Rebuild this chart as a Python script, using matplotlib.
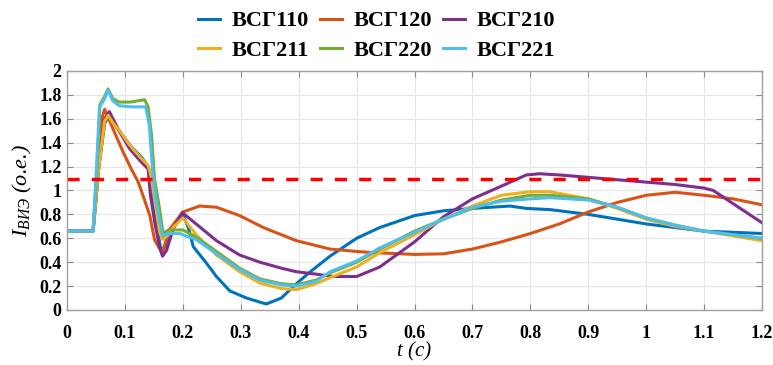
import matplotlib
matplotlib.use("Agg")
import matplotlib.pyplot as plt
from matplotlib.font_manager import FontProperties

plt.rcParams['mathtext.fontset'] = 'custom'
plt.rcParams['mathtext.it'] = 'Liberation Serif:italic'
plt.rcParams['mathtext.rm'] = 'Liberation Serif'
plt.rcParams['font.family'] = ['Liberation Serif', 'DejaVu Serif']

labels = ['ВСГ110', 'ВСГ120', 'ВСГ210', 'ВСГ211', 'ВСГ220', 'ВСГ221']
colors = ['#0072BD', '#D95319', '#7E2F8E', '#EDB120', '#77AC30', '#4DBEEE']
threshold = 1.1

t110 = [0, 0.045, 0.055, 0.065, 0.071, 0.09, 0.11, 0.13, 0.14, 0.146, 0.155, 0.163, 0.172, 0.185, 0.2, 0.21, 0.218, 0.241, 0.258, 0.281, 0.31, 0.344, 0.37, 0.396, 0.42, 0.454, 0.5, 0.54, 0.6, 0.65, 0.7, 0.765, 0.793, 0.834, 0.9, 0.95, 1.0, 1.05, 1.1, 1.15, 1.2]
v110 = [0.66, 0.66, 1.2, 1.56, 1.62, 1.50, 1.37, 1.27, 1.2, 1.05, 0.7, 0.48, 0.55, 0.70, 0.80, 0.68, 0.53, 0.39, 0.28, 0.16, 0.10, 0.05, 0.10, 0.22, 0.32, 0.45, 0.60, 0.69, 0.79, 0.83, 0.85, 0.87, 0.85, 0.84, 0.80, 0.76, 0.72, 0.69, 0.66, 0.65, 0.64]

t120 = [0, 0.045, 0.054, 0.06, 0.065, 0.079, 0.097, 0.111, 0.123, 0.131, 0.143, 0.151, 0.160, 0.165, 0.177, 0.2, 0.229, 0.258, 0.298, 0.339, 0.396, 0.454, 0.5, 0.529, 0.6, 0.65, 0.7, 0.75, 0.8, 0.85, 0.9, 0.95, 1.0, 1.05, 1.1, 1.15, 1.2]
v120 = [0.66, 0.66, 1.32, 1.6, 1.68, 1.52, 1.32, 1.18, 1.07, 0.96, 0.79, 0.59, 0.51, 0.49, 0.675, 0.82, 0.87, 0.86, 0.79, 0.69, 0.58, 0.51, 0.49, 0.48, 0.465, 0.47, 0.51, 0.57, 0.64, 0.72, 0.82, 0.90, 0.96, 0.985, 0.96, 0.93, 0.88]

t210 = [0, 0.045, 0.055, 0.065, 0.073, 0.091, 0.108, 0.126, 0.14, 0.144, 0.152, 0.16, 0.165, 0.172, 0.183, 0.199, 0.223, 0.258, 0.298, 0.333, 0.37, 0.396, 0.43, 0.46, 0.5, 0.54, 0.6, 0.65, 0.7, 0.747, 0.793, 0.816, 0.85, 0.9, 0.95, 1.0, 1.05, 1.1, 1.116, 1.15, 1.2]
v210 = [0.66, 0.66, 1.2, 1.6, 1.66, 1.49, 1.35, 1.25, 1.18, 0.96, 0.72, 0.52, 0.45, 0.50, 0.675, 0.815, 0.72, 0.58, 0.46, 0.40, 0.35, 0.32, 0.30, 0.28, 0.28, 0.36, 0.57, 0.78, 0.93, 1.03, 1.13, 1.14, 1.13, 1.11, 1.09, 1.07, 1.05, 1.02, 1.00, 0.89, 0.73]

t211 = [0, 0.045, 0.055, 0.065, 0.071, 0.08, 0.091, 0.108, 0.126, 0.14, 0.145, 0.152, 0.16, 0.165, 0.175, 0.183, 0.2, 0.223, 0.258, 0.298, 0.333, 0.37, 0.396, 0.43, 0.454, 0.5, 0.54, 0.6, 0.65, 0.7, 0.75, 0.8, 0.834, 0.9, 0.95, 1.0, 1.05, 1.1, 1.15, 1.2]
v211 = [0.66, 0.66, 1.2, 1.58, 1.63, 1.56, 1.50, 1.38, 1.28, 1.21, 1.12, 0.90, 0.65, 0.59, 0.63, 0.69, 0.77, 0.63, 0.46, 0.32, 0.225, 0.18, 0.17, 0.22, 0.27, 0.36, 0.48, 0.63, 0.76, 0.87, 0.96, 0.99, 0.99, 0.93, 0.85, 0.76, 0.70, 0.66, 0.62, 0.58]

t220 = [0, 0.045, 0.052, 0.057, 0.064, 0.071, 0.079, 0.09, 0.11, 0.134, 0.14, 0.146, 0.151, 0.158, 0.166, 0.175, 0.19, 0.2, 0.223, 0.258, 0.298, 0.333, 0.37, 0.396, 0.43, 0.454, 0.5, 0.54, 0.6, 0.65, 0.7, 0.75, 0.8, 0.834, 0.9, 0.95, 1.0, 1.05, 1.1, 1.15, 1.2]
v220 = [0.66, 0.66, 1.2, 1.72, 1.78, 1.85, 1.77, 1.74, 1.74, 1.76, 1.70, 1.46, 1.10, 0.90, 0.64, 0.67, 0.67, 0.67, 0.61, 0.49, 0.35, 0.26, 0.22, 0.21, 0.25, 0.31, 0.40, 0.51, 0.66, 0.76, 0.85, 0.92, 0.96, 0.96, 0.93, 0.86, 0.77, 0.71, 0.66, 0.63, 0.60]

t221 = [0, 0.045, 0.051, 0.056, 0.064, 0.071, 0.079, 0.09, 0.11, 0.136, 0.142, 0.148, 0.155, 0.165, 0.175, 0.195, 0.205, 0.223, 0.258, 0.298, 0.333, 0.37, 0.396, 0.43, 0.454, 0.5, 0.54, 0.6, 0.65, 0.7, 0.75, 0.8, 0.834, 0.9, 0.95, 1.0, 1.05, 1.1, 1.15, 1.2]
v221 = [0.66, 0.66, 1.2, 1.70, 1.76, 1.84, 1.75, 1.71, 1.70, 1.70, 1.55, 1.15, 0.88, 0.62, 0.64, 0.64, 0.62, 0.59, 0.47, 0.34, 0.25, 0.21, 0.20, 0.24, 0.32, 0.41, 0.52, 0.65, 0.76, 0.86, 0.91, 0.93, 0.94, 0.92, 0.86, 0.77, 0.71, 0.66, 0.63, 0.60]

series_t = [t110, t120, t210, t211, t220, t221]
series_v = [v110, v120, v210, v211, v220, v221]

xticks = [0, 0.1, 0.2, 0.3, 0.4, 0.5, 0.6, 0.7, 0.8, 0.9, 1, 1.1, 1.2]
xticklabels = ['0', '0.1', '0.2', '0.3', '0.4', '0.5', '0.6', '0.7', '0.8', '0.9', '1', '1.1', '1.2']
yticks = [0, 0.2, 0.4, 0.6, 0.8, 1, 1.2, 1.4, 1.6, 1.8, 2]
yticklabels = ['0', '0.2', '0.4', '0.6', '0.8', '1', '1.2', '1.4', '1.6', '1.8', '2']

fig = plt.figure(figsize=(7.73, 3.65), dpi=100)
ax = fig.add_axes([0.0867, 0.1507, 0.8991, 0.6548])

handles = []
for tt, vv, c, lab in zip(series_t, series_v, colors, labels):
    h, = ax.plot(tt, vv, color=c, lw=2.2, label=lab, solid_joinstyle='round')
    handles.append(h)

ax.axhline(threshold, color='#FF0000', lw=2.5, dashes=(3.5, 3.5))

ax.set_xlim(0, 1.2)
ax.set_ylim(0, 2)
ax.set_xticks(xticks)
ax.set_xticklabels(xticklabels)
ax.set_yticks(yticks)
ax.set_yticklabels(yticklabels)
tickfont = FontProperties(family='Liberation Serif', weight='bold', size=13)
for lbl in ax.get_xticklabels() + ax.get_yticklabels():
    lbl.set_fontproperties(tickfont)
ax.tick_params(direction='in', length=4, color='#888888', top=True, right=True)
ax.tick_params(axis='x', pad=11)
ax.tick_params(axis='y', pad=4)
ax.grid(True, color='#E6E6E6', lw=0.8)
ax.set_axisbelow(True)
for s in ax.spines.values():
    s.set_color('#A0A0A0')
    s.set_linewidth(1.0)

ax.set_xlabel('t (с)', fontsize=15, style='italic', labelpad=0)
ax.set_ylabel(r'$I_{ВИЭ}$ (о.е.)', fontsize=16, style='italic', labelpad=4)

order = [0, 3, 1, 4, 2, 5]
fig.legend([handles[i] for i in order], [labels[i] for i in order], ncol=3,
           loc='center', bbox_to_anchor=(0.487, 0.902), frameon=False,
           prop=FontProperties(family='Liberation Serif', weight='bold', size=16),
           handlelength=1.0, handletextpad=0.5, columnspacing=0.5, labelspacing=0.4)

fig.savefig('out.png', dpi=100)
